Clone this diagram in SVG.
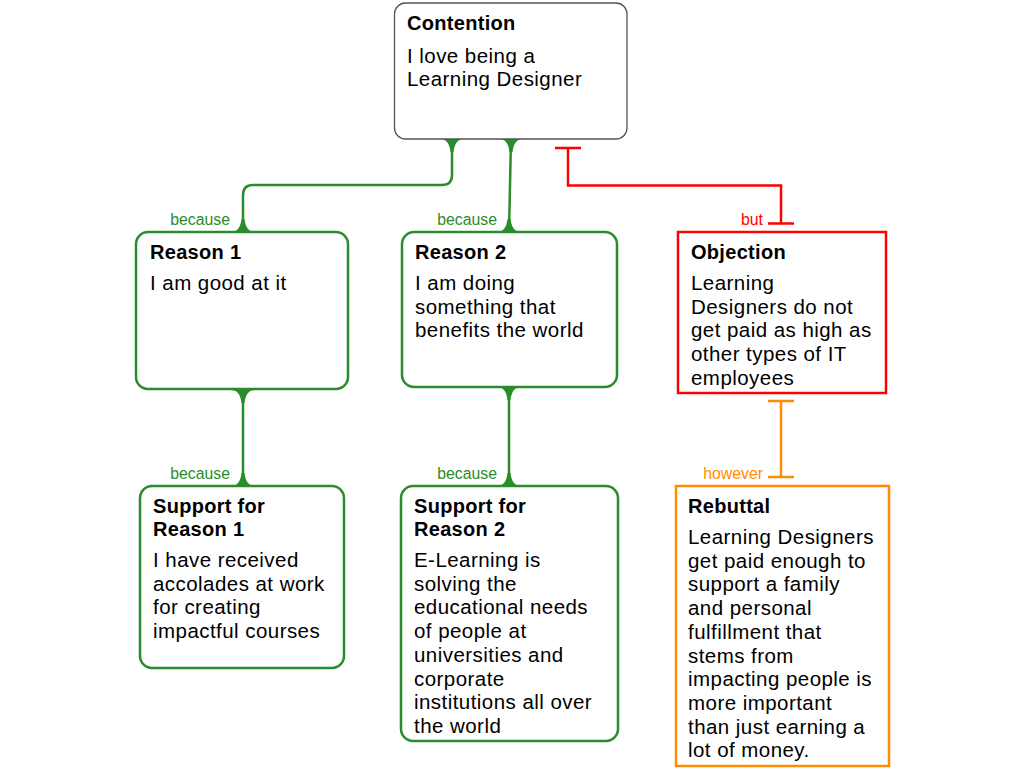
<svg xmlns="http://www.w3.org/2000/svg" width="1024" height="768" viewBox="0 0 1024 768">
<style>
text{font-family:"Liberation Sans",Arial,sans-serif;fill:#000}
.t{font-weight:bold;font-size:20px;letter-spacing:0.3px}
.b{font-size:20.5px;letter-spacing:0.45px}
.lbl{font-size:15.8px}
.box{fill:#fff;stroke-width:2.5}
.g{stroke:#2a8c2a}
.r{stroke:#ff0000}
.o{stroke:#ff8c00}
.line{fill:none;stroke-width:2.5}
.flare{fill:#2a8c2a}
</style>
<rect width="1024" height="768" fill="#fff"/>
<g id="connectors">
  <path class="line g" d="M452,139 V175 Q452,185 442,185 H253 Q243,185 243,195 V232"/>
  <path class="flare" d="M440,139 Q449,139 450.5,152 L453.5,152 Q455,139 464,139 Z"/>
  <path class="flare" d="M231,232 Q240,232 241.5,219 L244.5,219 Q246,232 255,232 Z"/>
  <text class="lbl" x="230" y="225" text-anchor="end" style="fill:#2a8c2a">because</text>

  <path class="line g" d="M511,139 L509,232"/>
  <path class="flare" d="M499,139 Q508,139 509.5,152 L512.5,152 Q514,139 523,139 Z"/>
  <path class="flare" d="M497,232 Q506,232 507.5,219 L510.5,219 Q512,232 521,232 Z"/>
  <text class="lbl" x="497" y="225" text-anchor="end" style="fill:#2a8c2a">because</text>

  <path class="line g" d="M243,390 V486"/>
  <path class="flare" d="M231,390 Q240,390 241.5,403 L244.5,403 Q246,390 255,390 Z"/>
  <path class="flare" d="M231,486 Q240,486 241.5,473 L244.5,473 Q246,486 255,486 Z"/>
  <text class="lbl" x="230" y="479" text-anchor="end" style="fill:#2a8c2a">because</text>

  <path class="line g" d="M509,387 V486"/>
  <path class="flare" d="M497,387 Q506,387 507.5,400 L510.5,400 Q512,387 521,387 Z"/>
  <path class="flare" d="M497,486 Q506,486 507.5,473 L510.5,473 Q512,486 521,486 Z"/>
  <text class="lbl" x="497" y="479" text-anchor="end" style="fill:#2a8c2a">because</text>

  <path class="line r" d="M568,148 V185.5 H781 V223 M555,148 H581 M768,223.5 H794"/>
  <text class="lbl" x="763" y="225" text-anchor="end" style="fill:#ff0000">but</text>

  <path class="line o" d="M781,401 V477 M768,401 H794 M768,477 H794"/>
  <text class="lbl" x="763" y="479" text-anchor="end" style="fill:#ff8c00">however</text>
</g>

<g id="contention">
  <rect x="394.5" y="3" width="232.5" height="136" rx="11" fill="#fff" stroke="#555" stroke-width="1.3"/>
  <text class="t" x="407" y="30">Contention</text>
  <text class="b" x="407" y="62.5">I love being a</text>
  <text class="b" x="407" y="86.2">Learning Designer</text>
</g>

<g id="reason1">
  <rect class="box g" x="136" y="232" width="212" height="157" rx="12"/>
  <text class="t" x="150" y="258.5">Reason 1</text>
  <text class="b" x="150" y="290">I am good at it</text>
</g>

<g id="reason2">
  <rect class="box g" x="402" y="232" width="215" height="155" rx="12"/>
  <text class="t" x="415" y="258.5">Reason 2</text>
  <text class="b" x="415" y="290">I am doing</text>
  <text class="b" x="415" y="313.7">something that</text>
  <text class="b" x="415" y="337.4">benefits the world</text>
</g>

<g id="objection">
  <rect class="box r" x="678" y="232" width="208" height="161"/>
  <text class="t" x="691" y="258.5">Objection</text>
  <text class="b" x="691" y="290">Learning</text>
  <text class="b" x="691" y="313.7">Designers do not</text>
  <text class="b" x="691" y="337.4">get paid as high as</text>
  <text class="b" x="691" y="361.1">other types of IT</text>
  <text class="b" x="691" y="384.8">employees</text>
</g>

<g id="support1">
  <rect class="box g" x="140" y="486" width="204" height="182" rx="12"/>
  <text class="t" x="153" y="512.5">Support for</text>
  <text class="t" x="153" y="536">Reason 1</text>
  <text class="b" x="153" y="567">I have received</text>
  <text class="b" x="153" y="590.7">accolades at work</text>
  <text class="b" x="153" y="614.4">for creating</text>
  <text class="b" x="153" y="638.1">impactful courses</text>
</g>

<g id="support2">
  <rect class="box g" x="401" y="486" width="217" height="255" rx="12"/>
  <text class="t" x="414" y="512.5">Support for</text>
  <text class="t" x="414" y="536">Reason 2</text>
  <text class="b" x="414" y="567">E-Learning is</text>
  <text class="b" x="414" y="590.7">solving the</text>
  <text class="b" x="414" y="614.4">educational needs</text>
  <text class="b" x="414" y="638.1">of people at</text>
  <text class="b" x="414" y="661.8">universities and</text>
  <text class="b" x="414" y="685.5">corporate</text>
  <text class="b" x="414" y="709.2">institutions all over</text>
  <text class="b" x="414" y="732.9">the world</text>
</g>

<g id="rebuttal">
  <rect class="box o" x="676" y="486" width="213" height="280"/>
  <text class="t" x="688" y="512.5">Rebuttal</text>
  <text class="b" x="688" y="544">Learning Designers</text>
  <text class="b" x="688" y="567.7">get paid enough to</text>
  <text class="b" x="688" y="591.4">support a family</text>
  <text class="b" x="688" y="615.1">and personal</text>
  <text class="b" x="688" y="638.8">fulfillment that</text>
  <text class="b" x="688" y="662.5">stems from</text>
  <text class="b" x="688" y="686.2">impacting people is</text>
  <text class="b" x="688" y="709.9">more important</text>
  <text class="b" x="688" y="733.6">than just earning a</text>
  <text class="b" x="688" y="757.3">lot of money.</text>
</g>
</svg>
